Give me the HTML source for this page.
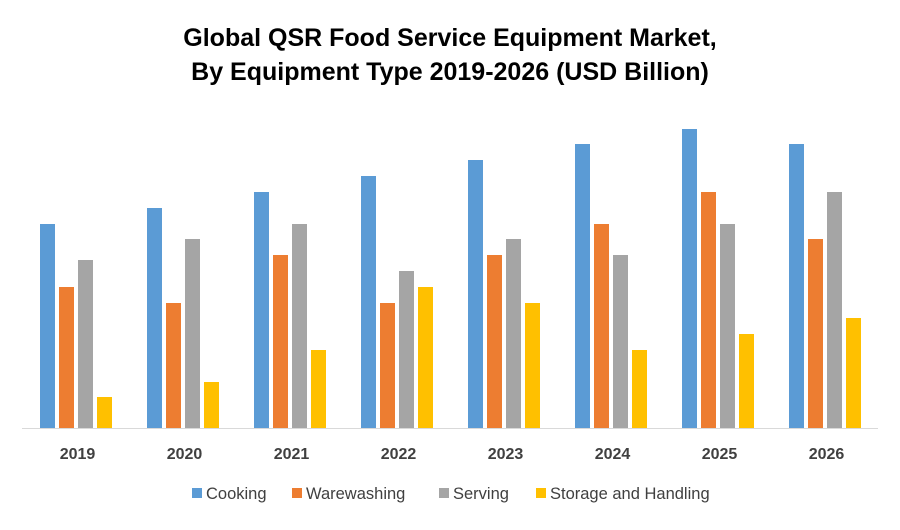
<!DOCTYPE html>
<html><head><meta charset="utf-8"><style>
body{margin:0;background:#fff;font-family:"Liberation Sans",sans-serif}
svg text{font-family:"Liberation Sans",sans-serif}
</style></head><body>
<svg id="chart" width="900" height="525">
<text x="450" y="46" text-anchor="middle" font-size="25" font-weight="bold" fill="#000">Global QSR Food Service Equipment Market,</text>
<text x="450" y="80" text-anchor="middle" font-size="25" font-weight="bold" fill="#000">By Equipment Type 2019-2026 (USD Billion)</text>
<g id="bars"></g>
<line x1="22" y1="428.5" x2="878" y2="428.5" stroke="#d9d9d9" stroke-width="1"/>
<g id="xlabels"></g>
<g id="legend"></g>
</svg>
<script>
const categories=["2019","2020","2021","2022","2023","2024","2025","2026"];
const seriesNames=["Cooking","Warewashing","Serving","Storage and Handling"];
const cooking=[204,220,236,252,268,284,299,284];
const warewashing=[141,125,173,125,173,204,236,189];
const serving=[168,189,204,157,189,173,204,236];
const storage=[31,46,78,141,125,78,94,110];
const colors=["#5b9bd5","#ed7d31","#a5a5a5","#ffc000"];
const series=[cooking,warewashing,serving,storage];
const NS="http://www.w3.org/2000/svg";
const x0=22,x1=878,baseY=428,plotH=320,maxV=320;
const gw=(x1-x0)/categories.length;
function yScale(v){return baseY-v/maxV*plotH;}
function xBar(i,s){return x0+gw*i+18+s*19;}
const bars=document.getElementById("bars");
series.forEach((arr,s)=>{arr.forEach((v,i)=>{
 const r=document.createElementNS(NS,"rect");
 r.setAttribute("x",xBar(i,s));r.setAttribute("y",yScale(v));
 r.setAttribute("width",15);r.setAttribute("height",baseY-yScale(v));
 r.setAttribute("fill",colors[s]);
 
 
 bars.appendChild(r);});});
const xl=document.getElementById("xlabels");
categories.forEach((c,i)=>{
 const t=document.createElementNS(NS,"text");
 t.setAttribute("x",x0+gw*i+gw/2+2);t.setAttribute("y",459);
 t.setAttribute("text-anchor","middle");t.setAttribute("font-size","16");t.setAttribute("font-weight","bold");t.setAttribute("fill","#404040");
 t.textContent=c;
 
 
 xl.appendChild(t);});
const lg=document.getElementById("legend");
const lx=[192,292,439,536];
seriesNames.forEach((n,s)=>{
 const g=document.createElementNS(NS,"g");
 
 
 const r=document.createElementNS(NS,"rect");
 r.setAttribute("x",lx[s]);r.setAttribute("y",488);r.setAttribute("width",10);r.setAttribute("height",10);r.setAttribute("fill",colors[s]);
 const t=document.createElementNS(NS,"text");
 t.setAttribute("x",lx[s]+14);t.setAttribute("y",499);t.setAttribute("font-size","16.5");t.setAttribute("fill","#404040");
 t.textContent=n;
 g.appendChild(r);g.appendChild(t);lg.appendChild(g);});
</script>
</body></html>
